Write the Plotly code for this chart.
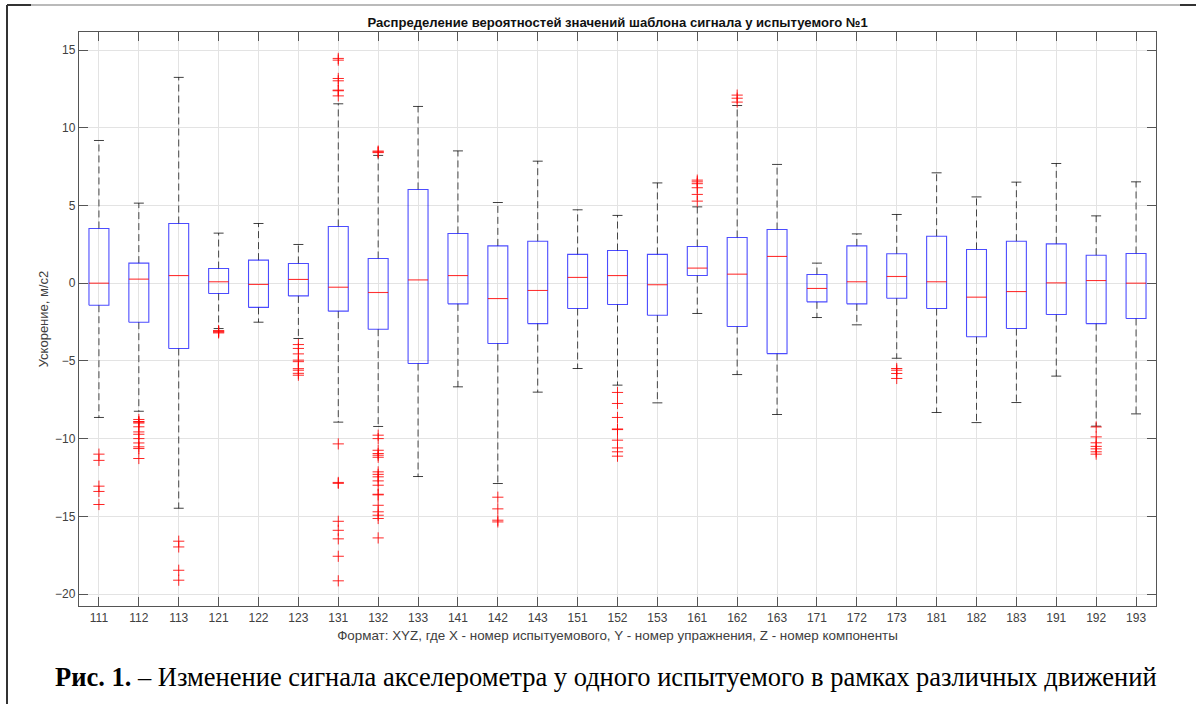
import plotly.graph_objects as go

categories = ["111", "112", "113", "121", "122", "123", "131", "132", "133",
              "141", "142", "143", "151", "152", "153", "161", "162", "163",
              "171", "172", "173", "181", "182", "183", "191", "192", "193"]

upper_whisker = [9.18, 5.15, 13.24, 3.22, 3.84, 2.49, 11.54, 8.22, 11.37,
                 8.51, 5.19, 7.85, 4.72, 4.36, 6.45, 4.91, 11.43, 7.64,
                 1.29, 3.17, 4.42, 7.10, 5.55, 6.50, 7.70, 4.33, 6.52]
q3 = [3.52, 1.29, 3.84, 0.94, 1.48, 1.27, 3.65, 1.59, 6.03,
      3.20, 2.40, 2.70, 1.85, 2.10, 1.85, 2.36, 2.94, 3.45,
      0.56, 2.40, 1.89, 3.02, 2.17, 2.70, 2.53, 1.80, 1.91]
median = [0.00, 0.26, 0.49, 0.09, -0.08, 0.24, -0.26, -0.60, 0.21,
          0.49, -0.99, -0.47, 0.37, 0.49, -0.10, 0.97, 0.58, 1.72,
          -0.34, 0.09, 0.43, 0.09, -0.90, -0.54, 0.02, 0.17, 0.00]
q1 = [-1.42, -2.51, -4.20, -0.66, -1.56, -0.82, -1.80, -2.96, -5.17,
      -1.33, -3.88, -2.60, -1.63, -1.37, -2.06, 0.49, -2.79, -4.53,
      -1.20, -1.33, -0.97, -1.63, -3.45, -2.92, -2.02, -2.60, -2.27]
lower_whisker = [-8.64, -8.24, -14.48, -2.92, -2.51, -3.56, -8.94, -9.22, -12.44,
                 -6.67, -12.89, -7.01, -5.49, -6.56, -7.70, -1.95, -5.88, -8.45,
                 -2.21, -2.68, -4.83, -8.32, -8.97, -7.68, -5.98, -9.20, -8.41]

outliers = [
    [-11.0, -11.4, -13.06, -13.4, -14.24],
    [-8.77, -8.9, -8.94, -9.0, -9.24, -9.57, -9.72, -10.0, -10.28, -10.53, -10.64, -11.28],
    [-16.6, -16.97, -18.47, -19.11],
    [-3.05, -3.1, -3.15, -3.2],
    [],
    [-3.95, -4.2, -4.55, -4.95, -5.05, -5.5, -5.6, -5.8, -5.92],
    [14.46, 14.35, 13.17, 13.02, 12.42, 12.38, 12.05, -10.34, -12.82, -12.88,
     -15.32, -15.9, -16.45, -17.57, -19.15],
    [8.4, 8.45, 8.5, -9.78, -10.0, -10.75, -10.96, -11.07, -11.2, -12.14, -12.3,
     -12.46, -12.72, -13.0, -13.58, -13.62, -14.29, -14.71, -14.93, -15.14, -16.39],
    [],
    [],
    [-13.77, -14.52, -15.25, -15.36],
    [],
    [],
    [-7.03, -7.74, -8.64, -9.38, -9.42, -10.1, -10.6, -10.85, -11.13],
    [],
    [6.63, 6.52, 6.4, 6.14, 5.71, 5.28],
    [12.1, 11.9, 11.65],
    [],
    [],
    [],
    [-5.49, -5.6, -5.81, -6.13],
    [],
    [],
    [],
    [],
    [-9.25, -9.89, -10.27, -10.5, -10.66, -10.85, -11.0],
    [],
]

title_text = "Распределение вероятностей значений шаблона сигнала у испытуемого №1"
ylabel_text = "Ускорение, м/с2"
xlabel_text = "Формат: XYZ, где X - номер испытуемового, Y - номер упражнения, Z - номер компоненты"
caption_bold = "Рис. 1."
caption_rest = " – Изменение сигнала акселерометра у одного испытуемого в рамках различных движений"

BOX_HALF = 0.25
CAP_HALF = 0.125

positions = list(range(1, len(categories) + 1))

box_x, box_y = [], []
med_x, med_y = [], []
wh_x, wh_y = [], []
cap_x, cap_y = [], []
out_x, out_y = [], []
for i, p in enumerate(positions):
    box_x += [p - BOX_HALF, p + BOX_HALF, p + BOX_HALF, p - BOX_HALF, p - BOX_HALF, None]
    box_y += [q1[i], q1[i], q3[i], q3[i], q1[i], None]
    med_x += [p - BOX_HALF, p + BOX_HALF, None]
    med_y += [median[i], median[i], None]
    wh_x += [p, p, None, p, p, None]
    wh_y += [q3[i], upper_whisker[i], None, q1[i], lower_whisker[i], None]
    cap_x += [p - CAP_HALF, p + CAP_HALF, None, p - CAP_HALF, p + CAP_HALF, None]
    cap_y += [upper_whisker[i], upper_whisker[i], None, lower_whisker[i], lower_whisker[i], None]
    for v in outliers[i]:
        out_x.append(p)
        out_y.append(v)

fig = go.Figure()
fig.add_trace(go.Scatter(x=wh_x, y=wh_y, mode="lines",
                         line=dict(color="rgba(0,0,0,0.7)", width=1, dash="7px,4px"),
                         hoverinfo="skip", showlegend=False))
fig.add_trace(go.Scatter(x=cap_x, y=cap_y, mode="lines",
                         line=dict(color="rgba(0,0,0,0.75)", width=1),
                         hoverinfo="skip", showlegend=False))
fig.add_trace(go.Scatter(x=box_x, y=box_y, mode="lines",
                         line=dict(color="rgba(0,0,255,0.7)", width=1.1),
                         hoverinfo="skip", showlegend=False))
fig.add_trace(go.Scatter(x=med_x, y=med_y, mode="lines",
                         line=dict(color="rgba(255,0,0,0.8)", width=1.1),
                         hoverinfo="skip", showlegend=False))
fig.add_trace(go.Scatter(x=out_x, y=out_y, mode="markers",
                         marker=dict(symbol="cross-thin", size=8,
                                     line=dict(color="rgba(255,0,0,0.85)", width=1)),
                         hoverinfo="skip", showlegend=False))

axis_font = dict(family="Liberation Sans, Arial, sans-serif", size=12, color="#262626")

fig.update_layout(
    width=1196, height=704,
    margin=dict(l=79, r=40, t=32, b=98, autoexpand=False),
    paper_bgcolor="white", plot_bgcolor="white",
    font=axis_font,
    title=dict(text="<b>" + title_text + "</b>", x=0.5164, xanchor="center",
               y=1 - 22 / 704, yanchor="middle",
               font=dict(family="Liberation Sans, Arial, sans-serif", size=13.1, color="#111111")),
    xaxis=dict(
        range=[0.5, len(categories) + 0.5],
        tickmode="array", tickvals=positions, ticktext=categories,
        showgrid=True, gridcolor="#e3e3e3", gridwidth=1,
        zeroline=False, showline=True, linecolor="#555555", linewidth=1.3,
        mirror="ticks", ticks="inside", ticklen=9, tickcolor="#555555",
        tickfont=dict(size=12, color="#404040"),
        title=dict(text=xlabel_text, standoff=7,
                   font=dict(size=13.4, color="#404040")),
    ),
    yaxis=dict(
        range=[-20.77, 16.16],
        tickmode="array", tickvals=[-20, -15, -10, -5, 0, 5, 10, 15],
        showgrid=True, gridcolor="#e3e3e3", gridwidth=1,
        zeroline=False, showline=True, linecolor="#555555", linewidth=1.3,
        mirror="ticks", ticks="inside", ticklen=9, tickcolor="#555555",
        tickfont=dict(size=12, color="#404040"),
        title=dict(text=ylabel_text, standoff=3,
                   font=dict(size=13, color="#404040")),
    ),
    annotations=[
        dict(text="<b>" + caption_bold + "</b>" + caption_rest,
             xref="paper", yref="paper", x=(606 - 79) / 1077, y=-(677 - 606) / 574,
             xanchor="center", yanchor="middle", showarrow=False,
             font=dict(family="Liberation Serif, Times New Roman, serif", size=26.5, color="black")),
    ],
    shapes=[
        dict(type="line", xref="paper", yref="paper", x0=-72/1077, x1=(1195-79)/1077,
             y0=1 + 27/574, y1=1 + 27/574, line=dict(color="#777777", width=1.2)),
        dict(type="line", xref="paper", yref="paper", x0=-72/1077, x1=-72/1077,
             y0=-98/574, y1=1 + 27/574, line=dict(color="#333333", width=2)),
        dict(type="line", xref="paper", yref="paper", x0=-72/1077, x1=-48/1077,
             y0=1 + 27/574, y1=1 + 27/574, line=dict(color="#333333", width=2)),
        dict(type="line", xref="paper", yref="paper", x0=(1180-79)/1077, x1=(1196-79)/1077,
             y0=1 + 27/574, y1=1 + 27/574, line=dict(color="#333333", width=2)),
    ],
)

fig.write_html("out.html", config={"displayModeBar": False},
               post_script="document.body.style.margin='0px';document.body.style.overflow='hidden';")
